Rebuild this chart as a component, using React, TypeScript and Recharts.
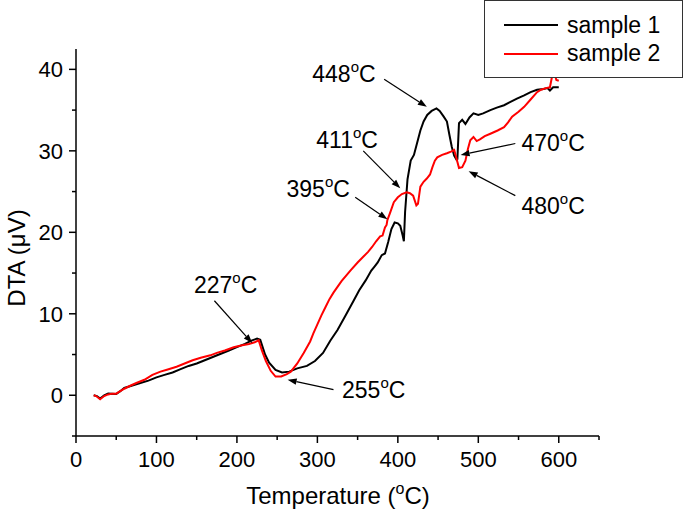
import React from "react";
import { LineChart, Line, XAxis, YAxis, ReferenceLine, ReferenceDot } from "recharts";

const FONT = "'Liberation Sans', Arial, sans-serif";

const series1Name = "sample 1";
const series2Name = "sample 2";

const sample1Temp = [22, 26, 30, 35, 40, 50, 55, 60, 70, 80, 90, 100, 110, 120, 130, 140, 150, 160, 170, 180, 190, 200, 210, 218, 225, 229, 235, 240, 248, 256, 265, 275, 287, 297, 307, 316, 325, 335, 345, 352, 360, 367, 371, 375, 380, 384, 388, 392, 396, 400, 403, 406, 407.5, 409, 412, 416, 420, 424, 428, 432, 436.5, 442, 448, 452, 457, 461, 464, 467, 470, 473, 474, 476, 480, 484, 489, 494, 500, 506, 515, 523, 532, 540, 548, 557, 565, 573, 581, 586, 589, 593, 600];
const sample1Dta = [0.0, -0.1, -0.4, 0.0, 0.2, 0.15, 0.5, 0.9, 1.2, 1.5, 1.8, 2.2, 2.5, 2.8, 3.2, 3.6, 3.9, 4.3, 4.7, 5.1, 5.5, 5.9, 6.3, 6.7, 6.95, 6.8, 5.0, 4.0, 3.1, 2.8, 2.9, 3.3, 3.6, 4.2, 5.2, 6.7, 8.0, 9.8, 11.6, 12.9, 14.1, 15.3, 15.8, 16.3, 17.2, 17.4, 18.8, 20.4, 21.2, 21.1, 20.8, 19.6, 18.9, 22.5, 26.5, 28.8, 29.5, 31.0, 32.5, 33.6, 34.4, 34.9, 35.2, 34.9, 34.2, 33.6, 32.0, 30.5, 29.4, 28.9, 29.0, 33.4, 33.8, 33.3, 34.1, 34.6, 34.4, 34.6, 35.0, 35.3, 35.6, 36.0, 36.4, 36.8, 37.2, 37.5, 37.6, 37.7, 37.4, 37.8, 37.8];

const sample2Temp = [22, 25, 30, 35, 40, 45, 50, 55, 60, 68, 75, 85, 95, 105, 115, 125, 135, 145, 155, 167, 175, 185, 196, 205, 215, 222, 227, 231, 236, 242, 248, 255, 262, 267, 275, 283, 291, 295, 300, 305, 310, 315, 320, 325, 330, 341, 350, 357, 363, 368, 373, 378, 381, 384, 386, 387, 390, 395, 400, 405, 411, 415, 419, 423, 425, 428, 432, 436, 440, 443, 446, 449, 455, 461, 466, 470, 472, 476, 480, 484, 487, 490, 494, 498, 502, 508, 515, 524, 532, 537, 542, 550, 557, 565, 573, 578, 584, 589, 592, 595, 597, 600];
const sample2Dta = [0.0, -0.1, -0.5, -0.1, 0.1, 0.2, 0.2, 0.5, 0.8, 1.2, 1.5, 1.9, 2.5, 2.9, 3.2, 3.5, 3.9, 4.3, 4.6, 4.9, 5.2, 5.5, 5.9, 6.1, 6.3, 6.5, 6.75, 5.5, 4.2, 3.0, 2.3, 2.3, 2.6, 2.9, 3.9, 5.2, 6.6, 7.6, 8.7, 9.8, 10.8, 11.8, 12.6, 13.3, 14.0, 15.3, 16.3, 17.0, 17.6, 18.2, 18.9, 19.5, 19.6, 20.6, 20.9, 21.5, 22.3, 23.7, 24.3, 24.7, 24.9, 24.8, 24.5, 23.3, 23.5, 25.6, 26.2, 26.6, 27.1, 28.0, 28.8, 29.2, 29.5, 29.7, 29.9, 30.1, 29.4, 27.9, 28.0, 28.8, 30.2, 31.3, 31.7, 31.2, 31.4, 31.8, 32.1, 32.5, 32.9, 33.5, 34.2, 34.8, 35.4, 36.3, 37.2, 37.5, 37.7, 37.8, 39.3, 39.4, 38.7, 38.6];

const xTicks = [0, 50, 100, 150, 200, 250, 300, 350, 400, 450, 500, 550, 600, 650];
const yTicks = [-5, 0, 5, 10, 15, 20, 25, 30, 35, 40];

// annotation: label temperature, text anchor (data), arrow tail -> head (data)
const noteLabels = ["448", "411", "470", "395", "480", "227", "255"];
const noteText = [[333, 38.4], [337, 30.3], [593, 30.0], [301, 24.3], [593, 22.3], [186, 12.5], [370, -0.3]];
const noteTail = [[383, 38.8], [357, 30.0], [546, 30.9], [347, 24.3], [546, 24.5], [172, 11.6], [320, 0.7]];
const noteHead = [[436, 35.4], [403, 25.4], [478, 29.5], [387, 21.6], [488, 27.5], [219, 6.4], [263, 1.9]];

const data1 = sample1Temp.map((t, i) => ({ t, v: sample1Dta[i] }));
const data2 = sample2Temp.map((t, i) => ({ t, v: sample2Dta[i] }));

function XTick({ x, y, payload }: any) {
  const major = payload.value % 100 === 0;
  return (
    <g>
      <line x1={x} x2={x} y1={y} y2={y + (major ? 7 : 4)} stroke="#000" strokeWidth={1.5} />
      {major && (
        <text x={x} y={y + 31} textAnchor="middle" fontSize={22} fontFamily={FONT} fill="#000">
          {payload.value}
        </text>
      )}
    </g>
  );
}

function YTick({ x, y, payload }: any) {
  const major = payload.value % 10 === 0 && payload.value >= 0;
  const minor = payload.value % 10 !== 0;
  return (
    <g>
      {(major || minor) && <line x1={x} x2={x - (major ? 7 : 4)} y1={y} y2={y} stroke="#000" strokeWidth={1.5} />}
      {major && (
        <text x={x - 13} y={y + 8} textAnchor="end" fontSize={22} fontFamily={FONT} fill="#000">
          {payload.value}
        </text>
      )}
    </g>
  );
}

function Arrow(props: any) {
  const { x1, y1, x2, y2 } = props;
  const a = Math.atan2(y2 - y1, x2 - x1);
  const len = 9;
  const w = 3.2;
  const bx = x2 - len * Math.cos(a);
  const by = y2 - len * Math.sin(a);
  const px = -Math.sin(a) * w;
  const py = Math.cos(a) * w;
  return (
    <g>
      <line x1={x1} y1={y1} x2={bx} y2={by} stroke="#000" strokeWidth={1.2} />
      <polygon points={`${x2},${y2} ${bx + px},${by + py} ${bx - px},${by - py}`} fill="#000" />
    </g>
  );
}

function DegLabel(label: string) {
  return (props: any) => (
    <text x={props.cx} y={props.cy} textAnchor="middle" fontSize={23} fontFamily={FONT} fill="#000">
      {label}
      <tspan dy={-10} fontSize={15}>o</tspan>
      <tspan dy={10}>C</tspan>
    </text>
  );
}

export default function App() {
  return (
    <div style={{ position: "fixed", left: 0, top: 0, width: 685, height: 510, background: "#fff" }}>
      <LineChart width={685} height={510} margin={{ top: 49, right: 86, bottom: 0, left: 0 }}>
        <XAxis
          type="number"
          dataKey="t"
          domain={[0, 650]}
          ticks={xTicks}
          interval={0}
          allowDataOverflow
          height={74}
          tickSize={0}
          tickMargin={0}
          tickLine={false}
          axisLine={{ stroke: "#000", strokeWidth: 1.5 }}
          tick={<XTick />}
        />
        <YAxis
          type="number"
          domain={[-5, 42.5]}
          ticks={yTicks}
          interval={0}
          allowDataOverflow
          width={76}
          tickSize={0}
          tickMargin={0}
          tickLine={false}
          axisLine={{ stroke: "#000", strokeWidth: 1.5 }}
          tick={<YTick />}
        />
        <Line data={data1} dataKey="v" name={series1Name} type="linear" stroke="#000" strokeWidth={2} dot={false} isAnimationActive={false} />
        <Line data={data2} dataKey="v" name={series2Name} type="linear" stroke="#ff0000" strokeWidth={2} dot={false} isAnimationActive={false} />
        {noteLabels.map((lab, i) => (
          <ReferenceLine
            key={"a" + lab}
            segment={[
              { x: noteTail[i][0], y: noteTail[i][1] },
              { x: noteHead[i][0], y: noteHead[i][1] },
            ]}
            shape={Arrow}
            ifOverflow="visible"
          />
        ))}
        {noteLabels.map((lab, i) => (
          <ReferenceDot key={"t" + lab} x={noteText[i][0]} y={noteText[i][1]} r={0} ifOverflow="visible" shape={DegLabel(lab)} />
        ))}
        <text x={338} y={504} textAnchor="middle" fontSize={24} fontFamily={FONT} fill="#000">
          Temperature (<tspan dy={-10} fontSize={16}>o</tspan>
          <tspan dy={10}>C)</tspan>
        </text>
        <text x={25} y={258} transform="rotate(-90, 25, 258)" textAnchor="middle" fontSize={24} fontFamily={FONT} fill="#000">
          DTA (μV)
        </text>
      </LineChart>
      <div
        style={{
          position: "absolute",
          left: 484,
          top: 0,
          width: 197,
          height: 76,
          border: "1.5px solid #333",
          background: "#fff",
          fontFamily: FONT,
          fontSize: 23,
          color: "#000",
        }}
      >
        {[
          [series1Name, "#000"],
          [series2Name, "#ff0000"],
        ].map(([name, color], i) => (
          <div key={name} style={{ position: "absolute", left: 19, top: 10 + i * 28.5, height: 28, display: "flex", alignItems: "center" }}>
            <span style={{ display: "inline-block", width: 54, height: 2, background: color, marginRight: 9 }} />
            <span>{name}</span>
          </div>
        ))}
      </div>
    </div>
  );
}
